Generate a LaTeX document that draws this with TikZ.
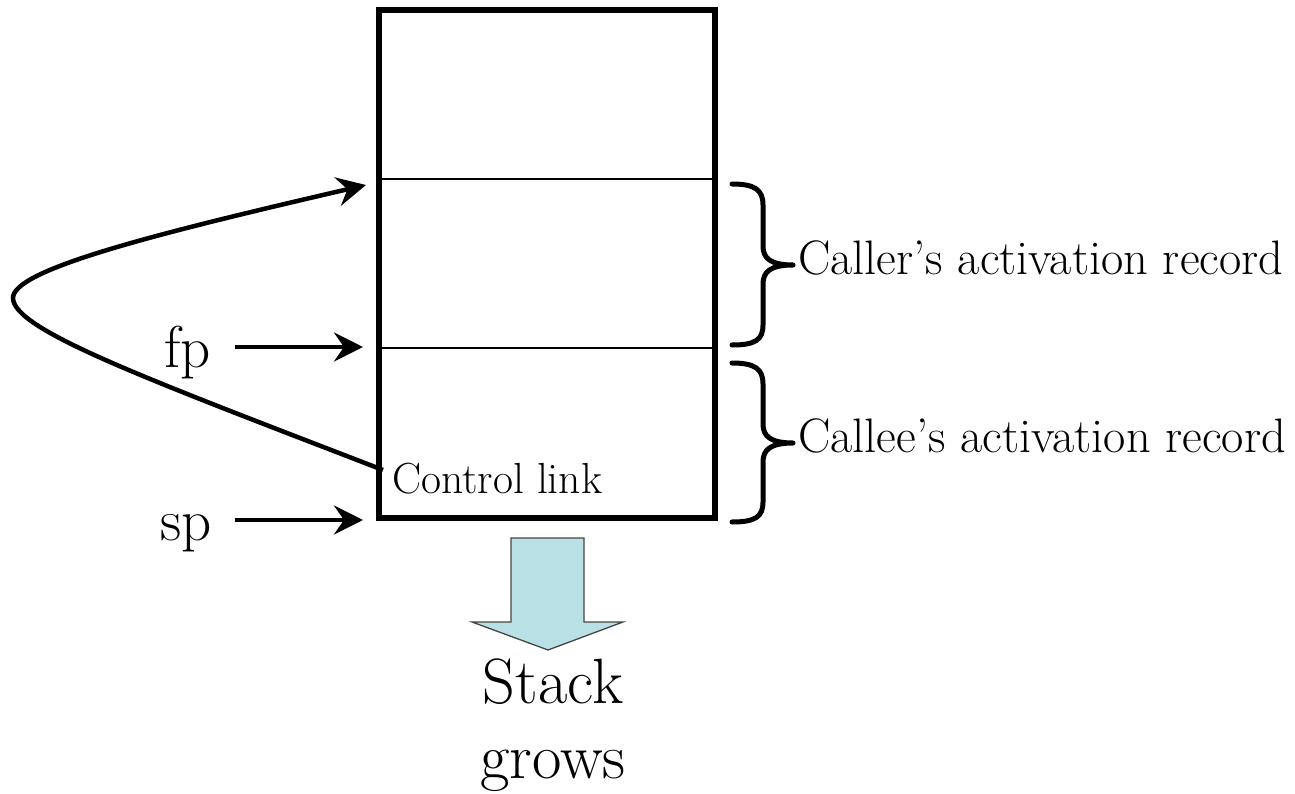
\documentclass[tikz,border=0pt]{standalone}
\usetikzlibrary{arrows.meta}
\definecolor{arrowfill}{RGB}{185,224,228}
\definecolor{arrowedge}{RGB}{70,70,70}
\tikzset{
  ptr/.style={line width=4.5pt,-{Stealth[length=29pt,width=29pt,inset=10pt]}},
  lbl/.style={inner sep=0pt,anchor=base west},
  bracepath/.style={line width=5pt,line cap=round,line join=round},
}
\begin{document}
\begin{tikzpicture}[x=1pt,y=-1pt]
\useasboundingbox (0,0) rectangle (1295,794);
% stack frame
\draw[line width=6pt] (379,10) rectangle (715,518);
\draw[line width=1.6pt] (379,179) -- (715,179);
\draw[line width=1.6pt] (379,348) -- (715,348);
% targets
\coordinate (top) at (366,185);
\coordinate (fpT) at (363,347);
\coordinate (spT) at (363,520);
\coordinate (fpS) at (235,347);
\coordinate (spS) at (235,520);
\coordinate (cl) at (383,470);
% labels
\node[lbl,font=\fontsize{59}{70}\selectfont] (fp) at (164,367) {fp};
\node[lbl,font=\fontsize{59}{70}\selectfont] (sp) at (160,540) {sp};
\node[lbl,font=\fontsize{43.5}{52}\selectfont] (ctl) at (392,493) {Control link};
\node[lbl,font=\fontsize{48.4}{58}\selectfont] (caller) at (798,275) {Caller’s activation record};
\node[lbl,font=\fontsize{48.4}{58}\selectfont] (callee) at (798,452) {Callee’s activation record};
\node[inner sep=0pt,anchor=base,font=\fontsize{64}{76}\selectfont] (stack) at (553,703) {Stack};
\node[inner sep=0pt,anchor=base,font=\fontsize{64}{76}\selectfont] (grows) at (553,778) {grows};
% pointers
\draw[ptr] (fpS) -- (fpT);
\draw[ptr] (spS) -- (spT);
\draw[ptr] (cl) .. controls (150,380) and (13,330) .. (13,298)
               .. controls (13,270) and (150,235) .. (top);
% braces
\draw[bracepath] (732,184) .. controls (755,184) and (763,190) .. (763,205) -- (763,246)
   .. controls (763,258) and (770,265) .. (793,265)
   .. controls (770,265) and (763,272) .. (763,284) -- (763,325)
   .. controls (763,340) and (755,345) .. (732,345);
\draw[bracepath] (732,363) .. controls (755,363) and (763,369) .. (763,384) -- (763,424)
   .. controls (763,436) and (770,443) .. (793,443)
   .. controls (770,443) and (763,450) .. (763,462) -- (763,502)
   .. controls (763,517) and (755,522) .. (732,522);
% block arrow
\draw[fill=arrowfill,draw=arrowedge,line width=1.3pt,line join=miter]
  (511,538) -- (584,538) -- (584,622) -- (623,622) -- (548,650) -- (472,622) -- (511,622) -- cycle;
\end{tikzpicture}
\end{document}
